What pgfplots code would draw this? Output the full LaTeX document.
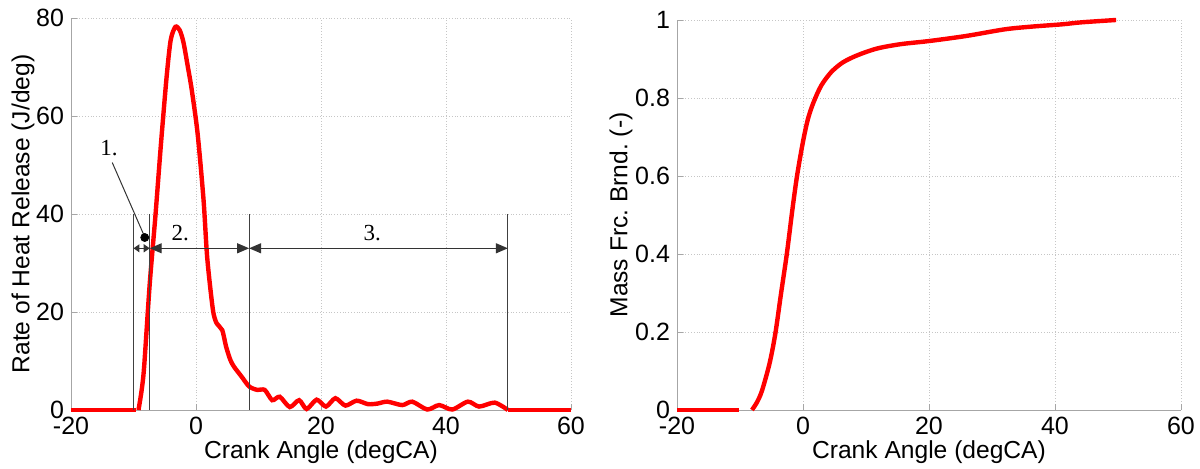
\documentclass[border=0pt]{standalone}
\usepackage{pgfplots}
\pgfplotsset{compat=1.18}
\usepackage{fontspec}
\setmainfont{Liberation Sans}
\newfontfamily\serif{Liberation Serif}
\usetikzlibrary{arrows.meta}

\pgfplotsset{
  matlab/.style={
    scale only axis,
    axis lines=left,
    axis line style={-, gray!70},
    tick style={gray!70, thin},
    tick align=inside,
    major tick length=3pt,
    xmajorgrids, ymajorgrids,
    major grid style={densely dotted, gray!45},
    xmin=-20, xmax=60,
    xtick={-20,0,...,60},
    font=\fontsize{12.3}{14}\selectfont,
    tick label style={font=\fontsize{12.5}{14}\selectfont},
    /pgf/number format/assume math mode=true,
    xlabel={Crank Angle (degCA)},
    xlabel style={at={(axis description cs:0.5,0)}, anchor=center, yshift=-21pt},
    clip=false,
  }
}

\begin{document}
\begin{tikzpicture}
\useasboundingbox (0,0) rectangle (600pt,234.5pt);

% left: rate of heat release
\begin{axis}[matlab,
    at={(35.5pt,29.5pt)}, anchor=south west,
    width=250pt, height=196pt,
    ymin=0, ymax=80, ytick={0,20,...,80},
    ylabel={Rate of Heat Release (J/deg)},
    ylabel style={at={(axis description cs:-0.096,0.5)}, anchor=center},
]
\addplot[red, line width=2.2pt] coordinates {(-20,0) (-9.6,0)};
\addplot[red, line width=2.2pt, smooth, tension=0.45] coordinates {
 (-9.2,0) (-8.7,4) (-8.3,8.8) (-7.4,25.8) (-6.5,39.5) (-5.6,54.4) (-4.7,68)
 (-4.05,75.5) (-3.3,78.2) (-2.6,77.5) (-2.0,75) (-1.3,70) (-0.7,65.5)
 (0.25,56.5) (1.2,43) (1.8,31) (2.7,20.5) (3.3,17.7) (4.2,16.3) (4.8,13)
 (5.5,10.2) (6.1,8.8) (7.3,6.8) (8.5,4.8) (9.8,4.1) (11,4.1) (12.2,2.0)
 (13.4,2.7) (15.0,0.6) (16.5,2.0) (17.7,0.2) (19.3,2.1) (20.8,0.7) (22.3,2.4)
 (23.9,0.9) (25.7,1.9) (27.5,1.2) (29,1.3) (30.6,1.7) (33,1.0) (34.6,1.7)
 (37,0.1) (38.9,1.0) (41,0.1) (43.5,1.7) (45.3,0.7) (47.8,1.5) (49.9,0)};
\addplot[red, line width=2.2pt] coordinates {(49.9,0) (60,0)};
% phase boundaries
\addplot[black!75, line width=0.6pt] coordinates {(-10,0) (-10,40)};
\addplot[black!75, line width=0.6pt] coordinates {(-7.4,0) (-7.4,40)};
\addplot[black!75, line width=0.6pt] coordinates {(8.5,0) (8.5,40)};
\addplot[black!75, line width=0.6pt] coordinates {(49.9,0) (49.9,40)};
\draw[black!80, line width=0.6pt, {Triangle[length=3pt,width=4pt]}-{Triangle[length=3pt,width=4pt]}]
  (axis cs:-10,33) -- (axis cs:-7.4,33);
\draw[black!80, line width=0.6pt, {Triangle[length=6pt,width=5pt]}-{Triangle[length=6pt,width=5pt]}]
  (axis cs:-7.4,33) -- (axis cs:8.5,33);
\draw[black!80, line width=0.6pt, {Triangle[length=6pt,width=5pt]}-{Triangle[length=6pt,width=5pt]}]
  (axis cs:8.5,33) -- (axis cs:49.9,33);
\draw[black!80, line width=0.5pt] (axis cs:-13.4,50.5) -- (axis cs:-8.3,35.6);
\addplot[only marks, mark=*, mark size=2pt, black] coordinates {(-8.2,35.2)};
\node[font=\serif\fontsize{11.5}{13}\selectfont] at (axis cs:-13.9,53.5) {1.};
\node[font=\serif\fontsize{11.5}{13}\selectfont] at (axis cs:-2.5,36.2) {2.};
\node[font=\serif\fontsize{11.5}{13}\selectfont] at (axis cs:28.2,36.2) {3.};
\end{axis}

% right: mass fraction burned
\begin{axis}[matlab,
    at={(338.5pt,29.5pt)}, anchor=south west,
    width=252pt, height=195pt,
    ymin=0, ymax=1, ytick={0,0.2,...,1},
    yticklabels={0,0.2,0.4,0.6,0.8,1},
    ylabel={Mass Frc.\ Brnd.\ (-)},
    ylabel style={at={(axis description cs:-0.111,0.5)}, anchor=center},
]
\addplot[red, line width=2.2pt] coordinates {(-20,0) (-10.1,0)};
\addplot[red, line width=2.2pt, smooth, tension=0.5] coordinates {
 (-8.1,0) (-7.3,0.02) (-6.5,0.05) (-5.3,0.12) (-4.4,0.195) (-3.5,0.297)
 (-2.57,0.4) (-1.65,0.518) (-0.92,0.603) (0,0.688) (0.8,0.747) (1.7,0.79)
 (2.9,0.832) (4.46,0.866) (6.3,0.891) (8.7,0.91) (11.8,0.927) (15.5,0.938)
 (20,0.946) (25.9,0.959) (32,0.976) (36.3,0.983) (41.2,0.989) (44.2,0.994)
 (49.7,1.0)};
\end{axis}
\end{tikzpicture}
\end{document}
